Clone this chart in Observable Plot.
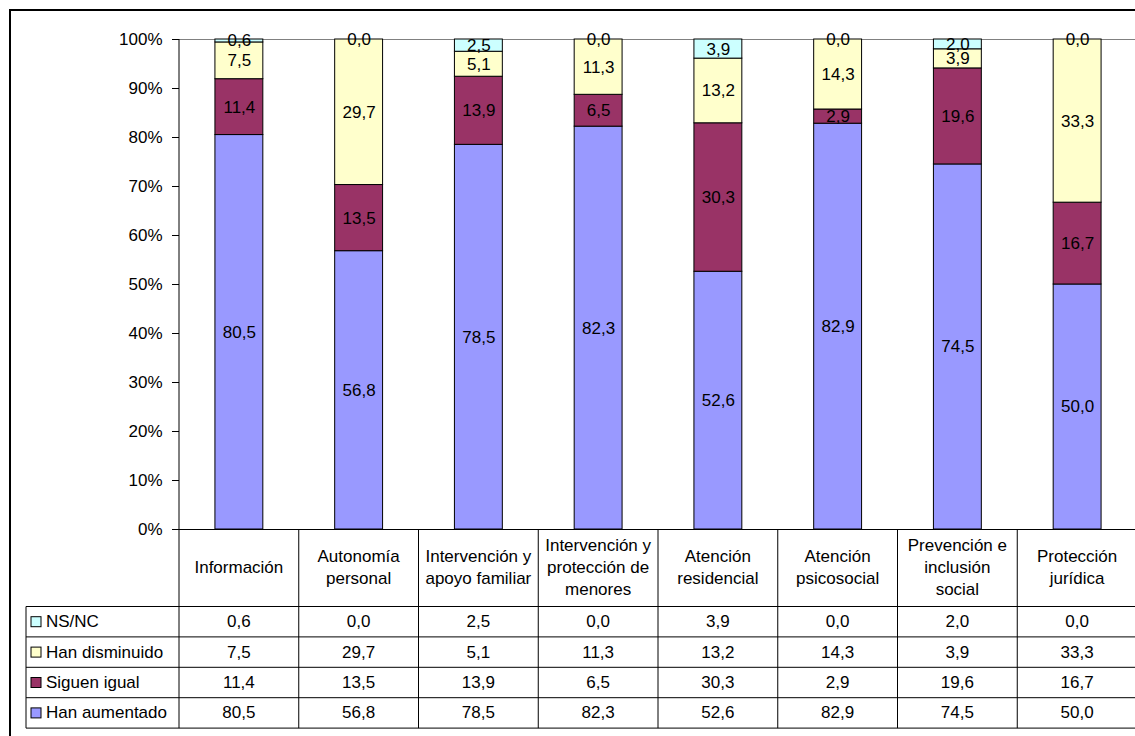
<!DOCTYPE html>
<html><head><meta charset="utf-8">
<script src="https://cdn.jsdelivr.net/npm/d3@7"></script>
<script src="https://cdn.jsdelivr.net/npm/@observablehq/plot@0.6"></script>
<style>html,body{margin:0;padding:0;overflow:hidden;background:#fff;width:1135px;height:736px}</style>
</head><body><div id="chart"></div>
<script>
const categories = ["Información","Autonomía personal","Intervención y apoyo familiar","Intervención y protección de menores","Atención residencial","Atención psicosocial","Prevención e inclusión social","Protección jurídica"];
const categoryLabels = ["Información","Autonomía\npersonal","Intervención y\napoyo familiar","Intervención y\nprotección de\nmenores","Atención\nresidencial","Atención\npsicosocial","Prevención e\ninclusión\nsocial","Protección\njurídica"];
const series = ["Han aumentado","Siguen igual","Han disminuido","NS/NC"];
const hanAumentado = [80.5,56.8,78.5,82.3,52.6,82.9,74.5,50.0];
const siguenIgual = [11.4,13.5,13.9,6.5,30.3,2.9,19.6,16.7];
const hanDisminuido = [7.5,29.7,5.1,11.3,13.2,14.3,3.9,33.3];
const nsnc = [0.6,0.0,2.5,0.0,3.9,0.0,2.0,0.0];
const seriesColors = ["#9999FF","#993366","#FFFFCC","#CCFFFF"];
const yTicks = [0,10,20,30,40,50,60,70,80,90,100];

const seriesValues = [hanAumentado, siguenIgual, hanDisminuido, nsnc];
const data = [];
categories.forEach((c, i) => series.forEach((s, j) => data.push({cat: c, series: s, value: seriesValues[j][i]})));
const fmt = v => v.toFixed(1).replace(".", ",");
const FONT = "'Liberation Sans', Arial, sans-serif";

const plot = Plot.plot({
  width: 1137, height: 736,
  marginLeft: 179, marginRight: 0, marginTop: 39, marginBottom: 207,
  style: {fontFamily: FONT, fontSize: "17px", color: "#000", background: "transparent", overflow: "hidden", maxWidth: "none"},
  x: {domain: categories, paddingInner: 0.6, paddingOuter: 0.3, round: false, axis: null},
  y: {domain: [0, 1], axis: null},
  color: {domain: series, range: seriesColors},
  marks: [
    Plot.ruleY([1], {stroke: "#808080", strokeWidth: 1}),
    Plot.barY(data, Plot.stackY({offset: "normalize", order: series}, {x: "cat", y: "value", fill: "series", stroke: "#000", strokeWidth: 1})),
    Plot.text(data, Plot.stackY({offset: "normalize", order: series}, {x: "cat", y: "value", z: "series", text: d => fmt(d.value), fill: "#000", fontSize: 17})),
    Plot.axisY({ticks: yTicks.map(v => v / 100), tickFormat: d => Math.round(d * 100) + "%", tickSize: 7, tickPadding: 10, fontSize: 17, stroke: "#000", label: null}),
    Plot.ruleY([0], {stroke: "#000", strokeWidth: 1})
  ]
});

// Data table beneath the chart, positioned from Plot's own scales
const svg = d3.select(plot);
const xs = plot.scale("x"), ys = plot.scale("y");
const step = xs.step, bw = xs.bandwidth;
const cellLeft = c => xs.apply(c) + bw / 2 - step / 2;
const y0 = ys.apply(0), yTop = ys.apply(1);
const tableLeft = 26, headerH = 77.5, rowH = 30.4;
const xAxis = cellLeft(categories[0]);
const xRight = cellLeft(categories[categories.length - 1]) + step;
const headerBottom = y0 + headerH;
const tableBottom = headerBottom + rowH * series.length;
const g = svg.append("g").attr("font-family", FONT).attr("font-size", 17).attr("fill", "#000").attr("text-anchor", "start");
const line = (x1, y1, x2, y2) => g.append("line").attr("x1", x1).attr("y1", y1).attr("x2", x2).attr("y2", y2).attr("stroke", "#000").attr("stroke-width", 1);

line(xAxis, yTop, xAxis, tableBottom);
categories.slice(1).forEach(c => line(cellLeft(c), y0, cellLeft(c), tableBottom));
line(tableLeft, headerBottom, tableLeft, tableBottom);
for (let r = 0; r <= series.length; r++) line(tableLeft, headerBottom + r * rowH, xRight, headerBottom + r * rowH);

// header labels
categories.forEach((c, i) => {
  const lines = categoryLabels[i].split("\n");
  const cx = cellLeft(c) + step / 2, cy = y0 + headerH / 2;
  const lh = 21.8;
  lines.forEach((t, k) => {
    g.append("text").attr("x", cx).attr("y", cy + (k - (lines.length - 1) / 2) * lh)
      .attr("text-anchor", "middle").attr("dominant-baseline", "central").text(t);
  });
});

// rows (top row = last series)
const rowOrder = series.map((s, j) => j).reverse();
rowOrder.forEach((j, r) => {
  const cy = headerBottom + rowH * (r + 0.5);
  g.append("rect").attr("x", 31).attr("y", cy - 5).attr("width", 10).attr("height", 10)
    .attr("fill", seriesColors[j]).attr("stroke", "#000").attr("stroke-width", 1);
  g.append("text").attr("x", 46).attr("y", cy).attr("text-anchor", "start").attr("dominant-baseline", "central").text(series[j]);
  categories.forEach((c, i) => {
    g.append("text").attr("x", cellLeft(c) + step / 2).attr("y", cy)
      .attr("text-anchor", "middle").attr("dominant-baseline", "central").text(fmt(seriesValues[j][i]));
  });
});

// outer chart-area border (top and left edges; the rest lies outside the picture)
svg.append("path").attr("d", `M10,${plot.getAttribute("height")}V10H${plot.getAttribute("width")}`)
  .attr("fill", "none").attr("stroke", "#000").attr("stroke-width", 2);

document.getElementById("chart").appendChild(plot);
</script>
</body></html>
